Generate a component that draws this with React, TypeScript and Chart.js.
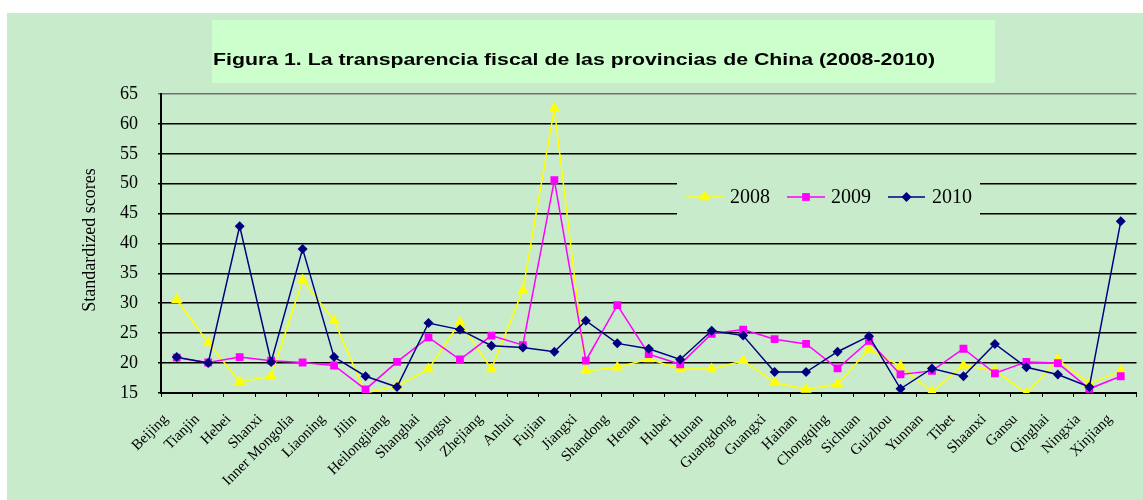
import React, { useEffect, useRef } from "react";
import { Chart, registerables } from "chart.js";

Chart.register(...registerables);

const categories = [
  "Beijing", "Tianjin", "Hebei", "Shanxi", "Inner Mongolia", "Liaoning", "Jilin",
  "Heilongjiang", "Shanghai", "Jiangsu", "Zhejiang", "Anhui", "Fujian", "Jiangxi",
  "Shandong", "Henan", "Hubei", "Hunan", "Guangdong", "Guangxi", "Hainan",
  "Chongqing", "Sichuan", "Guizhou", "Yunnan", "Tibet", "Shaanxi", "Gansu",
  "Qinghai", "Ningxia", "Xinjiang",
];

const s2008 = [30.6, 23.4, 16.9, 17.8, 33.9, 27.1, 15.0, 16.2, 19.0, 26.8, 19.0, 32.2, 62.6, 18.7, 19.3, 20.7, 19.0, 19.0, 20.4, 16.8, 15.6, 16.5, 22.3, 19.5, 15.2, 19.6, 18.8, 14.9, 20.6, 16.6, 18.7];
const s2009 = [20.9, 20.1, 21.0, 20.4, 20.1, 19.6, 15.6, 20.2, 24.3, 20.6, 24.6, 23.0, 50.6, 20.4, 29.7, 21.5, 19.8, 24.9, 25.6, 24.0, 23.2, 19.1, 23.7, 18.1, 18.7, 22.4, 18.3, 20.2, 20.0, 15.7, 17.8];
const s2010 = [21.0, 20.0, 42.9, 20.2, 39.1, 21.0, 17.8, 16.0, 26.7, 25.6, 22.9, 22.6, 21.9, 27.1, 23.3, 22.4, 20.6, 25.4, 24.6, 18.5, 18.5, 21.9, 24.5, 15.7, 19.1, 17.8, 23.2, 19.3, 18.1, 16.0, 43.7];

const seriesNames = ["2008", "2009", "2010"];
const titleText = "Figura 1. La transparencia fiscal de las provincias de China (2008-2010)";
const yTitle = "Standardized scores";
const yMin = 15;
const yMax = 65;
const yStep = 5;

const BG = "#C8EBCC";
const TITLE_BG = "#CCFFCC";
const YELLOW = "#FFFF00";
const MAGENTA = "#FF00FF";
const NAVY = "#000080";
const SERIF = "'Liberation Serif', 'Times New Roman', serif";

const decorPlugin = {
  id: "decor",
  beforeDraw(chart: any) {
    const ctx = chart.ctx;
    ctx.save();
    ctx.fillStyle = "#ffffff";
    ctx.fillRect(0, 0, chart.width, chart.height);
    ctx.fillStyle = BG;
    ctx.fillRect(7, 13, chart.width - 7, chart.height - 13);
    ctx.fillStyle = TITLE_BG;
    ctx.fillRect(212, 20, 783, 63);
    ctx.fillStyle = "#000";
    ctx.font = "bold 17px 'Liberation Sans', Arial, sans-serif";
    ctx.textBaseline = "alphabetic";
    ctx.textAlign = "left";
    const w = ctx.measureText(titleText).width;
    ctx.translate(213, 65);
    ctx.scale(722 / w, 1);
    ctx.fillText(titleText, 0, 0);
    ctx.restore();
  },
  afterDraw(chart: any) {
    const ctx = chart.ctx;
    // x labels
    const xs = chart.scales.x;
    const axisY = chart.chartArea.bottom;
    ctx.save();
    ctx.fillStyle = "#000";
    ctx.font = `15px ${SERIF}`;
    ctx.textAlign = "right";
    ctx.textBaseline = "middle";
    categories.forEach((lab, i) => {
      const cx = xs.getPixelForValue(i);
      ctx.save();
      ctx.translate(cx - 11, axisY + 24);
      ctx.rotate(-Math.PI / 4);
      ctx.fillText(lab, 0, 0);
      ctx.restore();
    });
    ctx.restore();

    ctx.save();
    // y axis title
    ctx.translate(90, 240);
    ctx.rotate(-Math.PI / 2);
    ctx.fillStyle = "#000";
    ctx.font = `18px ${SERIF}`;
    ctx.textAlign = "center";
    ctx.textBaseline = "middle";
    ctx.fillText(yTitle, 0, 0);
    ctx.restore();

    // legend
    ctx.save();
    ctx.fillStyle = BG;
    ctx.fillRect(677, 160, 303, 72);
    const cy = 197;
    const items = [
      { x0: 686, x1: 723, color: YELLOW, style: "triangle", r: 6.5, tx: 730 },
      { x0: 787, x1: 825, color: MAGENTA, style: "rect", r: 5.5, tx: 831 },
      { x0: 888, x1: 925, color: NAVY, style: "rectRot", r: 5, tx: 932 },
    ];
    items.forEach((it, i) => {
      ctx.strokeStyle = it.color;
      ctx.lineWidth = 1.5;
      ctx.beginPath();
      ctx.moveTo(it.x0, cy);
      ctx.lineTo(it.x1, cy);
      ctx.stroke();
      ctx.fillStyle = it.color;
      const mx = (it.x0 + it.x1) / 2;
      ctx.beginPath();
      if (it.style === "triangle") {
        const r = it.r;
        ctx.moveTo(mx, cy - r);
        ctx.lineTo(mx + r * 0.866, cy + r * 0.5);
        ctx.lineTo(mx - r * 0.866, cy + r * 0.5);
        ctx.closePath();
      } else if (it.style === "rect") {
        const s = it.r * Math.SQRT1_2;
        ctx.rect(mx - s, cy - s, 2 * s, 2 * s);
      } else {
        const r = it.r;
        ctx.moveTo(mx, cy - r);
        ctx.lineTo(mx + r, cy);
        ctx.lineTo(mx, cy + r);
        ctx.lineTo(mx - r, cy);
        ctx.closePath();
      }
      ctx.fill();
      ctx.fillStyle = "#000";
      ctx.font = `20px ${SERIF}`;
      ctx.textAlign = "left";
      ctx.textBaseline = "middle";
      ctx.fillText(seriesNames[i], it.tx, cy + 1);
    });
    ctx.restore();
  },
};

export default function App() {
  const ref = useRef<HTMLCanvasElement | null>(null);
  useEffect(() => {
    if (!ref.current) return;
    const chart = new Chart(ref.current, {
      type: "line",
      data: {
        labels: categories,
        datasets: [
          {
            label: seriesNames[0],
            data: s2008,
            borderColor: YELLOW,
            backgroundColor: YELLOW,
            borderWidth: 1.5,
            pointStyle: "triangle",
            pointRadius: 6.5,
            pointBorderWidth: 0,
            order: 3,
            tension: 0,
          },
          {
            label: seriesNames[1],
            data: s2009,
            borderColor: MAGENTA,
            backgroundColor: MAGENTA,
            borderWidth: 1.5,
            pointStyle: "rect",
            pointRadius: 5.5,
            pointBorderWidth: 0,
            order: 2,
            tension: 0,
          },
          {
            label: seriesNames[2],
            data: s2010,
            borderColor: NAVY,
            backgroundColor: NAVY,
            borderWidth: 1.5,
            pointStyle: "rectRot",
            pointRadius: 5,
            pointBorderWidth: 0,
            order: 1,
            tension: 0,
          },
        ],
      },
      options: {
        responsive: false,
        animation: false,
        devicePixelRatio: 1,
        layout: { padding: { top: 94, right: 1, left: 0, bottom: 0 } },
        plugins: {
          legend: { display: false },
          title: { display: false },
          tooltip: { enabled: false },
        },
        scales: {
          x: {
            offset: true,
            grid: {
              offset: true,
              drawOnChartArea: false,
              drawTicks: true,
              tickLength: 4,
              color: "#000",
              lineWidth: 1,
            },
            border: { color: "#000", width: 2 },
            ticks: { display: false, autoSkip: false },
            afterFit: (s: any) => {
              s.height = 107;
            },
          },
          y: {
            min: yMin,
            max: yMax,
            ticks: {
              stepSize: yStep,
              color: "#000",
              padding: 20,
              font: { family: SERIF, size: 18 },
            },
            grid: {
              color: (c: any) => (c.tick && c.tick.value === yMax ? "#707070" : "#000"),
              lineWidth: 1.6,
              tickLength: 3,
            },
            border: { color: "#000", width: 2 },
            afterFit: (s: any) => {
              s.width = 161;
            },
          },
        },
      },
      plugins: [decorPlugin],
    });
    return () => chart.destroy();
  }, []);
  return (
    <div style={{ position: "absolute", left: 0, top: 0, width: 1143, height: 500 }}>
      <canvas ref={ref} width={1143} height={500} style={{ display: "block" }} />
    </div>
  );
}
